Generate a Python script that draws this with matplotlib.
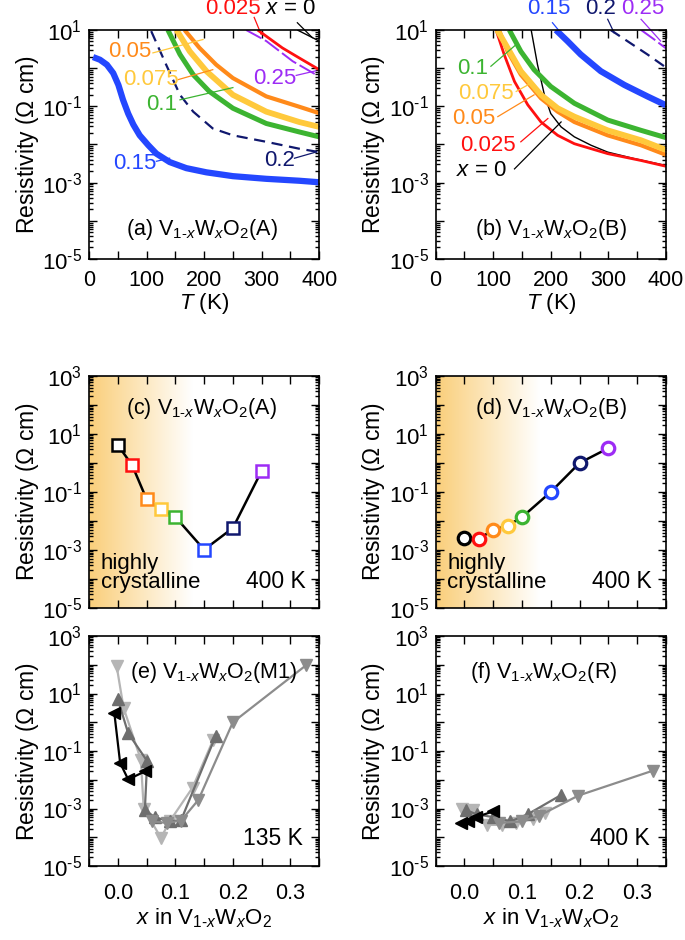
import matplotlib
matplotlib.use("Agg")
import matplotlib.pyplot as plt
import numpy as np
from matplotlib.ticker import MultipleLocator, LogLocator, FuncFormatter, NullFormatter

plt.rcParams['font.family'] = ['Liberation Sans', 'DejaVu Sans']
plt.rcParams['mathtext.fontset'] = 'custom'
plt.rcParams['mathtext.rm'] = 'Liberation Sans'
plt.rcParams['mathtext.it'] = 'Liberation Sans:italic'
plt.rcParams['font.size'] = 15

# colours per W content
cols = {'0': 'black', '0.025': '#ff1010', '0.05': '#ff8a1a', '0.075': '#ffc93c',
        '0.1': '#3cb431', '0.15': '#2447ff', '0.2': '#10186e', '0.25': '#9d2cf5'}

# ---- (a) film A: T (K) and log10 resistivity
a_T = {
    '0':     [362, 383, 400],
    '0.025': [293, 336, 365, 400],
    '0.25':  [273, 308, 354, 400],
    '0.05':  [166, 192, 221, 250, 308, 365, 400],
    '0.075': [152, 175, 204, 250, 308, 365, 400],
    '0.1':   [137, 158, 181, 209, 250, 308, 365, 400],
    '0.2':   [108, 134, 158, 181, 215, 250, 308, 365, 400],
    '0.15':  [7, 19, 31, 42, 51, 59, 68, 77, 88, 103, 117, 140, 169, 204, 250, 308, 365, 400],
}
a_logr = {
    '0':     [1.0, 0.84, 0.71],
    '0.025': [1.0, 0.53, 0.27, -0.04],
    '0.25':  [1.0, 0.71, 0.18, -0.22],
    '0.05':  [1.0, 0.53, 0.09, -0.26, -0.74, -1.01, -1.18],
    '0.075': [1.0, 0.44, -0.08, -0.70, -1.14, -1.41, -1.54],
    '0.1':   [1.0, 0.36, -0.17, -0.61, -1.05, -1.45, -1.67, -1.80],
    '0.2':   [0.97, 0.09, -0.70, -1.14, -1.58, -1.76, -1.93, -2.11, -2.20],
    '0.15':  [0.29, 0.22, 0.09, -0.13, -0.44, -0.83, -1.19, -1.48, -1.76, -2.02, -2.24, -2.46,
              -2.62, -2.73, -2.83, -2.90, -2.95, -2.99],
}

# ---- (b) film B
b_T = {
    '0':     [166, 177, 189, 200, 218, 241, 270, 299, 345, 400],
    '0.025': [105, 119, 137, 160, 183, 212, 241, 299, 357, 400],
    '0.05':  [110, 125, 148, 183, 212, 241, 299, 357, 400],
    '0.075': [107, 125, 148, 183, 212, 241, 299, 357, 400],
    '0.1':   [128, 148, 171, 200, 241, 299, 357, 400],
    '0.15':  [209, 229, 252, 287, 328, 368, 400],
    '0.2':   [304, 333, 368, 400],
    '0.25':  [357, 380, 400],
}
b_logr = {
    '0':     [1.0, 0.09, -0.70, -1.19, -1.54, -1.80, -2.02, -2.20, -2.37, -2.55],
    '0.025': [1.0, 0.36, -0.35, -0.96, -1.41, -1.76, -1.98, -2.24, -2.42, -2.57],
    '0.05':  [1.0, 0.44, -0.17, -0.79, -1.14, -1.41, -1.76, -2.02, -2.27],
    '0.075': [1.0, 0.53, -0.08, -0.70, -1.05, -1.27, -1.63, -1.89, -2.14],
    '0.1':   [1.0, 0.44, -0.04, -0.48, -0.92, -1.36, -1.63, -1.82],
    '0.15':  [1.0, 0.71, 0.36, -0.08, -0.44, -0.74, -0.97],
    '0.2':   [1.0, 0.71, 0.36, 0.02],
    '0.25':  [1.0, 0.75, 0.52],
}

# ---- (c), (d) resistivity at 400 K vs x
x_w = [0.0, 0.025, 0.05, 0.075, 0.1, 0.15, 0.2, 0.25]
w_keys = ['0', '0.025', '0.05', '0.075', '0.1', '0.15', '0.2', '0.25']
c_logr = [0.62, -0.08, -1.25, -1.60, -1.86, -2.99, -2.24, -0.27]
d_logr = [-2.59, -2.61, -2.31, -2.16, -1.87, -1.00, 0.00, 0.51]

# ---- (e) M1 at 135 K, literature series
e_series = [
    # colour, marker, x, log10 rho
    ('#b5b5b5', 'v', [-0.002, 0.01, 0.04, 0.045, 0.075, 0.09, 0.13, 0.166],
     [1.95, 0.5, -1.3, -3.0, -4.02, -3.45, -2.27, -0.6]),
    ('#6e6e6e', '^', [0.0, 0.018, 0.051, 0.047, 0.064, 0.09, 0.11, 0.17],
     [0.8, -0.38, -1.35, -3.05, -3.3, -3.45, -3.4, -0.48]),
    ('#8c8c8c', 'v', [0.06, 0.085, 0.11, 0.14, 0.2, 0.327],
     [-3.45, -3.5, -3.42, -2.7, 0.0, 1.98]),
    ('black', '<', [-0.006, 0.004, 0.018, 0.048],
     [0.31, -1.41, -1.99, -1.70]),
]

# ---- (f) R at 400 K
f_series = [
    ('#b5b5b5', 'v', [-0.004, 0.015, 0.04, 0.065, 0.09, 0.12, 0.14],
     [-3.0, -3.05, -3.57, -3.57, -3.5, -3.35, -3.15]),
    ('#6e6e6e', '^', [0.002, 0.021, 0.05, 0.08, 0.11, 0.168],
     [-3.05, -3.2, -3.3, -3.45, -3.2, -2.53]),
    ('#8c8c8c', 'v', [0.06, 0.1, 0.13, 0.198, 0.328],
     [-3.5, -3.45, -3.25, -2.55, -1.68]),
    ('black', '<', [-0.006, 0.006, 0.02, 0.05],
     [-3.52, -3.45, -3.3, -3.1]),
]

sub = r"V$_{\text{1-}x}$W$_x$O$_2$"

fig = plt.figure(figsize=(6.85, 9.4), dpi=100)
L1, L2, W = 0.130, 0.636, 0.336
ax_a = fig.add_axes([L1, 0.7245, W, 0.2436])
ax_b = fig.add_axes([L2, 0.7245, W, 0.2436])
ax_c = fig.add_axes([L1, 0.3532, W, 0.2468])
ax_d = fig.add_axes([L2, 0.3532, W, 0.2468])
ax_e = fig.add_axes([L1, 0.0787, W, 0.2447])
ax_f = fig.add_axes([L2, 0.0787, W, 0.2447])


def logfmt(v, pos):
    e = int(round(np.log10(v)))
    return "10$^{\\text{%d}}$" % e if e % 2 else ""


def style(ax, ylo, yhi):
    ax.set_yscale('log')
    ax.set_ylim(10.0**ylo, 10.0**yhi)
    ax.yaxis.set_major_locator(LogLocator(base=10, numticks=20))
    ax.yaxis.set_minor_locator(LogLocator(base=10, subs=np.arange(2, 10), numticks=20))
    ax.yaxis.set_major_formatter(FuncFormatter(logfmt))
    ax.yaxis.set_minor_formatter(NullFormatter())
    ax.tick_params(which='both', direction='in', top=True, right=True, width=1.0)
    ax.tick_params(which='major', length=6)
    ax.tick_params(which='minor', length=3)
    ax.tick_params(axis='y', pad=5, labelsize=16)
    ax.tick_params(axis='x', labelsize=15.5)
    for s in ax.spines.values():
        s.set_linewidth(1.2)
    ax.set_ylabel("Resistivity ($\\Omega$ cm)", fontsize=16.5, labelpad=1)


# ---- T panels
lw = {'0': 1.0, '0.025': 2.0, '0.05': 3.0, '0.075': 4.2, '0.1': 3.6, '0.15': 4.5, '0.2': 1.6, '0.25': 1.4}
ls = {'0.2': (0, (5, 3)), '0.25': (0, (9, 2))}
for ax, Td, Ld in [(ax_a, a_T, a_logr), (ax_b, b_T, b_logr)]:
    style(ax, -5, 1)
    for k in Td:
        ax.plot(Td[k], 10.0**np.array(Ld[k]), color=cols[k], lw=lw[k],
                ls=ls.get(k, '-'), solid_capstyle='butt', clip_on=True)
    ax.set_xlim(0, 400)
    ax.xaxis.set_major_locator(MultipleLocator(50))
    ax.xaxis.set_major_formatter(FuncFormatter(lambda v, p: "%d" % v if v % 100 == 0 else ""))
    ax.tick_params(axis='x', pad=8)
    ax.set_xlabel("$T$ (K)", fontsize=16, labelpad=0)

ax_a.text(0.49, 0.127, "(a) " + sub + "(A)", transform=ax_a.transAxes, ha='center', va='center', fontsize=15.5)
ax_b.text(0.50, 0.127, "(b) " + sub + "(B)", transform=ax_b.transAxes, ha='center', va='center', fontsize=15.5)

# curve labels: key, text pos (T, log), leader start, leader end, leader colour
a_lab = [('0.025', "0.025", (250, 1.55), (287, 1.33), (299, 0.89), cols['0.025']),
         ('0', "$x$ = 0", (350, 1.55), (362, 1.19), (388, 0.80), 'black'),
         ('0.05', "0.05", (71, 0.44), (111, 0.40), (198, 0.75), cols['0.075']),
         ('0.075', "0.075", (108, -0.30), (155, -0.30), (215, -0.04), cols['0.05']),
         ('0.1', "0.1", (126, -0.96), (158, -0.83), (250, -0.51), cols['0.1']),
         ('0.25', "0.25", (322, -0.26), (360, -0.19), (394, -0.07), cols['0.25']),
         ('0.15', "0.15", (80, -2.51), (117, -2.44), (140, -2.36), cols['0.15']),
         ('0.2', "0.2", (331, -2.42), (357, -2.36), (394, -2.20), cols['0.2'])]
b_lab = [('0.15', "0.15", (196, 1.55), (203, 1.19), (215, 0.97), cols['0.15']),
         ('0.2', "0.2", (287, 1.55), (299, 1.28), (310, 0.93), cols['0.2']),
         ('0.25', "0.25", (360, 1.55), (357, 1.28), (391, 0.71), cols['0.25']),
         ('0.1', "0.1", (64, 0.0), (96, 0.05), (140, 0.62), cols['0.1']),
         ('0.075', "0.075", (87, -0.66), (140, -0.61), (166, -0.39), cols['0.075']),
         ('0.05', "0.05", (67, -1.32), (108, -1.27), (171, -0.70), cols['0.05']),
         ('0.025', "0.025", (90, -2.02), (148, -1.93), (195, -1.32), cols['0.025']),
         ('0', "$x$ = 0", (79, -2.68), (137, -2.64), (218, -1.41), 'black')]
for ax, labs in [(ax_a, a_lab), (ax_b, b_lab)]:
    for k, t, p, s0, s1, lc in labs:
        ax.text(p[0], 10.0**p[1], t, color=cols[k], ha='center', va='center', fontsize=16,
                clip_on=False)
        ax.plot([s0[0], s1[0]], [10.0**s0[1], 10.0**s1[1]], color=lc, lw=0.9, clip_on=False)

# ---- x panels
def xstyle(ax, labels):
    style(ax, -5, 3)
    ax.set_xlim(-0.05, 0.35)
    ax.xaxis.set_major_locator(MultipleLocator(0.05))
    if labels:
        ax.xaxis.set_major_formatter(FuncFormatter(
            lambda v, p: "%.1f" % abs(v) if (abs(v * 10 - round(v * 10)) < 1e-6 and v > -0.01) else ""))
        ax.tick_params(axis='x', pad=12)
        ax.set_xlabel("$x$ in " + sub, fontsize=16, labelpad=2)
    else:
        ax.xaxis.set_major_formatter(NullFormatter())


grad_rgb = np.array([0.98, 0.81, 0.48])
g = np.linspace(0, 1, 256)
grad = 1 - (1 - grad_rgb)[None, :] * (1 - g)[:, None]
grad = np.clip(grad, 0, 1)[None, :, :]
for ax in [ax_c, ax_d]:
    bg = fig.add_axes(ax.get_position(), zorder=0)
    bg.imshow(grad, extent=[0, 0.45, 0, 1], aspect='auto')
    bg.set_xlim(0, 1)
    bg.set_ylim(0, 1)
    bg.axis('off')
    ax.set_zorder(1)
    ax.patch.set_alpha(0)

xstyle(ax_c, False)
xstyle(ax_d, False)
ax_c.plot(x_w, 10.0**np.array(c_logr), color='black', lw=1.8, zorder=2)
ax_d.plot(x_w, 10.0**np.array(d_logr), color='black', lw=1.8, zorder=2)
for i, k in enumerate(w_keys):
    ax_c.plot(x_w[i], 10.0**c_logr[i], 's', ms=8.5, mfc='white', mec=cols[k], mew=1.8, zorder=3)
    ax_d.plot(x_w[i], 10.0**d_logr[i], 'o', ms=9, mfc='white', mec=cols[k], mew=2.3, zorder=3)
ax_c.text(0.49, 0.86, "(c) " + sub + "(A)", transform=ax_c.transAxes, ha='center', va='center', fontsize=15.5)
ax_d.text(0.50, 0.86, "(d) " + sub + "(B)", transform=ax_d.transAxes, ha='center', va='center', fontsize=15.5)
for ax in [ax_c, ax_d]:
    ax.text(0.05, 0.065, "highly\ncrystalline", transform=ax.transAxes, ha='left', va='bottom',
            fontsize=16, linespacing=0.88)
    ax.text(0.94, 0.065, "400 K", transform=ax.transAxes, ha='right', va='bottom', fontsize=16.5)

xstyle(ax_e, True)
xstyle(ax_f, True)
for ax, ser in [(ax_e, e_series), (ax_f, f_series)]:
    for c, m, xs, ys in ser:
        ax.plot(xs, 10.0**np.array(ys), color=c, marker=m, ms=9, lw=1.6, mec=c)
ax_e.text(0.54, 0.843, "(e) " + sub + "(M1)", transform=ax_e.transAxes, ha='center', va='center', fontsize=15.5)
ax_f.text(0.47, 0.843, "(f) " + sub + "(R)", transform=ax_f.transAxes, ha='center', va='center', fontsize=15.5)
ax_e.text(0.93, 0.12, "135 K", transform=ax_e.transAxes, ha='right', va='center', fontsize=16.5)
ax_f.text(0.93, 0.12, "400 K", transform=ax_f.transAxes, ha='right', va='center', fontsize=16.5)

fig.savefig("out.png", dpi=100)
